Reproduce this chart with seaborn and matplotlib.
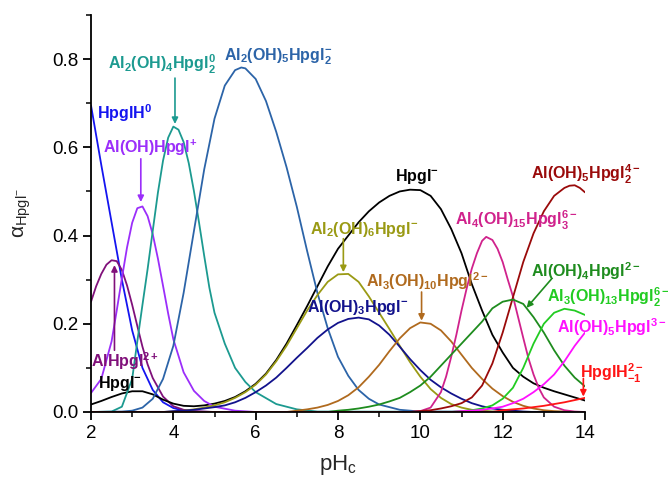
import numpy as np
import pandas as pd
import matplotlib
matplotlib.use("Agg")
import matplotlib.pyplot as plt
import seaborn as sns
from matplotlib.ticker import MultipleLocator, FormatStrFormatter

# ---------------- data ----------------
# common pH grid for the broad curves
pH = [2.0, 2.25, 2.5, 2.75, 3.0, 3.25, 3.5, 3.75, 4.0, 4.25, 4.5, 4.75,
      5.0, 5.25, 5.5, 5.75, 6.0, 6.25, 6.5, 6.75, 7.0, 7.25, 7.5, 7.75,
      8.0, 8.25, 8.5, 8.75, 9.0, 9.25, 9.5, 9.75, 10.0, 10.25, 10.5, 10.75,
      11.0, 11.25, 11.5, 11.75, 12.0, 12.25, 12.5, 12.75, 13.0, 13.25, 13.5, 13.75,
      14.0]

pH_HpglH0 = [2.0, 2.25, 2.5, 2.75, 3.0, 3.25, 3.5, 3.75, 4.0, 4.25, 4.5, 5.0, 14.0]
HpglH0 = [0.695, 0.56, 0.43, 0.30, 0.185, 0.10, 0.05, 0.022, 0.009, 0.003, 0.001, 0, 0]

pH_AlHpgl = [2.0, 2.125, 2.25, 2.375, 2.5, 2.625, 2.75, 2.875, 3.0, 3.125, 3.25, 3.375,
             3.5, 3.75, 4.0, 4.25, 4.5, 5.0, 14.0]
AlHpgl = [0.25, 0.285, 0.313, 0.334, 0.344, 0.342, 0.322, 0.287, 0.243, 0.195, 0.148, 0.108,
          0.077, 0.035, 0.013, 0.005, 0.002, 0, 0]

Hpgl = [0.017, 0.025, 0.034, 0.042, 0.047, 0.047, 0.04, 0.028, 0.019, 0.014, 0.013, 0.015,
        0.019, 0.025, 0.034, 0.047, 0.064, 0.087, 0.118, 0.155, 0.197, 0.24, 0.285, 0.33,
        0.37, 0.40, 0.43, 0.455, 0.475, 0.49, 0.50, 0.504, 0.503, 0.49, 0.46, 0.415,
        0.36, 0.29, 0.23, 0.175, 0.135, 0.10, 0.08, 0.065, 0.055, 0.047, 0.04, 0.033,
        0.026]

pH_AlOHHpgl = [2.0, 2.25, 2.5, 2.625, 2.75, 2.875, 3.0, 3.125, 3.25, 3.375, 3.5, 3.625,
               3.75, 3.875, 4.0, 4.25, 4.5, 4.75, 5.0, 5.5, 6.0, 14.0]
AlOHHpgl = [0.043, 0.075, 0.16, 0.23, 0.303, 0.373, 0.429, 0.462, 0.466, 0.444, 0.403, 0.348,
            0.286, 0.223, 0.165, 0.09, 0.048, 0.025, 0.012, 0.003, 0, 0]

pH_Al2OH4 = [2.0, 2.5, 2.75, 3.0, 3.125, 3.25, 3.375, 3.5, 3.625, 3.75, 3.875, 4.0,
             4.125, 4.25, 4.375, 4.5, 4.625, 4.75, 4.875, 5.0, 5.25, 5.5, 5.75, 6.0,
             6.5, 7.0, 7.5, 14.0]
Al2OH4 = [0, 0.001, 0.012, 0.075, 0.16, 0.243, 0.324, 0.411, 0.497, 0.57, 0.622, 0.647,
          0.640, 0.612, 0.564, 0.501, 0.429, 0.354, 0.282, 0.225, 0.155, 0.10, 0.068, 0.045,
          0.018, 0.006, 0.001, 0]

pH_Al2OH5 = [2.0, 2.75, 3.0, 3.25, 3.5, 3.75, 4.0, 4.25, 4.5, 4.75, 5.0, 5.25,
             5.5, 5.65, 5.75, 6.0, 6.25, 6.5, 6.75, 7.0, 7.25, 7.5, 7.75, 8.0,
             8.25, 8.5, 8.75, 9.0, 9.5, 10.0, 14.0]
Al2OH5 = [0, 0.001, 0.003, 0.01, 0.03, 0.075, 0.15, 0.27, 0.41, 0.55, 0.665, 0.74,
          0.775, 0.781, 0.779, 0.755, 0.705, 0.635, 0.555, 0.465, 0.365, 0.27, 0.19, 0.125,
          0.082, 0.05, 0.03, 0.017, 0.005, 0.001, 0]

Al2OH6 = [0, 0, 0, 0, 0, 0, 0, 0, 0.001, 0.003, 0.006, 0.01,
          0.015, 0.022, 0.032, 0.045, 0.062, 0.085, 0.115, 0.15, 0.19, 0.23, 0.265, 0.295,
          0.312, 0.313, 0.295, 0.262, 0.225, 0.188, 0.15, 0.113, 0.08, 0.052, 0.032, 0.018,
          0.01, 0.005, 0.003, 0.001, 0, 0, 0, 0, 0, 0, 0, 0,
          0]
AlOH3 = [0, 0, 0, 0, 0, 0, 0, 0, 0.002, 0.003, 0.005, 0.008,
         0.011, 0.015, 0.022, 0.032, 0.045, 0.06, 0.078, 0.10, 0.123, 0.145, 0.168, 0.187,
         0.202, 0.211, 0.214, 0.21, 0.196, 0.175, 0.148, 0.12, 0.095, 0.073, 0.056, 0.042,
         0.03, 0.02, 0.013, 0.008, 0.005, 0.003, 0.001, 0, 0, 0, 0, 0,
         0]
Al3OH10 = [0, 0, 0, 0, 0, 0, 0, 0, 0, 0, 0, 0,
           0, 0, 0, 0, 0, 0, 0, 0, 0.003, 0.006, 0.01, 0.016,
           0.025, 0.038, 0.056, 0.08, 0.107, 0.138, 0.167, 0.19, 0.203, 0.2, 0.185, 0.16,
           0.13, 0.10, 0.075, 0.053, 0.036, 0.023, 0.014, 0.008, 0.004, 0.002, 0.001, 0,
           0]

pH_Al4OH15 = [2.0, 9.75, 10.0, 10.25, 10.5, 10.625, 10.75, 10.875, 11.0, 11.125, 11.25, 11.375,
              11.5, 11.6, 11.75, 11.875, 12.0, 12.125, 12.25, 12.375, 12.5, 12.625, 12.75, 12.875,
              13.0, 13.25, 13.5, 13.75, 14.0]
Al4OH15 = [0, 0, 0.002, 0.01, 0.045, 0.08, 0.125, 0.175, 0.23, 0.28, 0.325, 0.36,
           0.388, 0.397, 0.39, 0.37, 0.34, 0.30, 0.262, 0.215, 0.168, 0.122, 0.085, 0.055,
           0.033, 0.012, 0.004, 0.001, 0]

pH_AlOH5_2 = [2.0, 9.75, 10.0, 10.25, 10.5, 10.75, 11.0, 11.25, 11.5, 11.75, 12.0, 12.25,
              12.5, 12.75, 13.0, 13.25, 13.5, 13.625, 13.75, 13.875, 14.0]
AlOH5_2 = [0, 0, 0.002, 0.004, 0.008, 0.013, 0.02, 0.033, 0.06, 0.11, 0.18, 0.26,
           0.34, 0.405, 0.455, 0.49, 0.508, 0.513, 0.514, 0.508, 0.498]

AlOH4 = [0, 0, 0, 0, 0, 0, 0, 0, 0, 0, 0, 0,
         0, 0, 0, 0, 0, 0, 0, 0, 0, 0, 0, 0,
         0.003, 0.005, 0.008, 0.012, 0.017, 0.024, 0.032, 0.045, 0.06, 0.08, 0.105, 0.13,
         0.155, 0.18, 0.205, 0.235, 0.25, 0.255, 0.245, 0.215, 0.18, 0.14, 0.105, 0.078,
         0.058]
Al3OH13 = [0, 0, 0, 0, 0, 0, 0, 0, 0, 0, 0, 0,
           0, 0, 0, 0, 0, 0, 0, 0, 0, 0, 0, 0,
           0, 0, 0, 0, 0, 0, 0, 0, 0, 0, 0, 0,
           0.002, 0.004, 0.008, 0.015, 0.03, 0.055, 0.10, 0.155, 0.20, 0.225, 0.234, 0.23,
           0.22]
AlOH5 = [0, 0, 0, 0, 0, 0, 0, 0, 0, 0, 0, 0,
         0, 0, 0, 0, 0, 0, 0, 0, 0, 0, 0, 0,
         0, 0, 0, 0, 0, 0, 0, 0, 0, 0, 0, 0,
         0.002, 0.003, 0.005, 0.008, 0.012, 0.02, 0.03, 0.045, 0.063, 0.085, 0.115, 0.15,
         0.18]
HpglHm1 = [0, 0, 0, 0, 0, 0, 0, 0, 0, 0, 0, 0,
           0, 0, 0, 0, 0, 0, 0, 0, 0, 0, 0, 0,
           0, 0, 0, 0, 0, 0, 0, 0, 0, 0, 0, 0,
           0, 0, 0, 0, 0.004, 0.006, 0.008, 0.011, 0.014, 0.018, 0.022, 0.027,
           0.032]

series = [
    (pH_HpglH0, HpglH0, "#1414F0"),
    (pH_AlHpgl, AlHpgl, "#80107A"),
    (pH, Hpgl, "#000000"),
    (pH_AlOHHpgl, AlOHHpgl, "#9B2EFA"),
    (pH_Al2OH4, Al2OH4, "#1C9A90"),
    (pH_Al2OH5, Al2OH5, "#2C64A8"),
    (pH, Al2OH6, "#9A9A14"),
    (pH, AlOH3, "#12128C"),
    (pH, Al3OH10, "#B06A1E"),
    (pH_Al4OH15, Al4OH15, "#D0228C"),
    (pH_AlOH5_2, AlOH5_2, "#9A0A0A"),
    (pH, AlOH4, "#1E8C1E"),
    (pH, Al3OH13, "#22CC22"),
    (pH, AlOH5, "#FF10FF"),
    (pH, HpglHm1, "#FF1414"),
]

# ---------------- style ----------------
sns.set_theme(style="ticks")
plt.rcParams["font.family"] = ["Liberation Sans", "DejaVu Sans"]
plt.rcParams["mathtext.fontset"] = "custom"
plt.rcParams["mathtext.rm"] = "Liberation Sans"
plt.rcParams["mathtext.it"] = "Liberation Sans:italic"
plt.rcParams["mathtext.bf"] = "Liberation Sans:bold"

fig = plt.figure(figsize=(6.68, 4.80), dpi=100)
ax = fig.add_axes([91 / 668, 68 / 480, 494 / 668, 397 / 480])

for xs, vals, col in series:
    sns.lineplot(x=xs, y=vals, color=col, lw=1.3, ax=ax, legend=False, sort=False)

ax.set_xlim(2, 14)
ax.set_ylim(0, 0.9)
ax.xaxis.set_major_locator(MultipleLocator(2))
ax.xaxis.set_minor_locator(MultipleLocator(1))
ax.yaxis.set_major_locator(MultipleLocator(0.2))
ax.yaxis.set_minor_locator(MultipleLocator(0.1))
ax.yaxis.set_major_formatter(FormatStrFormatter("%.1f"))
sns.despine(ax=ax)
for sp in ("left", "bottom"):
    ax.spines[sp].set_linewidth(1.3)
    ax.spines[sp].set_color("black")
ax.tick_params(which="major", direction="out", length=6, width=1.3, labelsize=13.5,
               colors="black", pad=3)
ax.tick_params(which="minor", direction="out", length=3.5, width=1.1, colors="black")

ax.set_xlabel("pH$_\\mathrm{c}$", fontsize=16, labelpad=8)
ax.set_ylabel("\u03b1$_{\\mathrm{Hpgl}^{-}}$", fontsize=15, labelpad=14)

# ---------------- labels and arrows ----------------
FS = 11.5
labels = [
    (r"$\mathbf{HpglH^{0}}$", 2.14, 0.665, "#1414F0"),
    (r"$\mathbf{Al(OH)Hpgl^{+}}$", 2.30, 0.588, "#9B2EFA"),
    (r"$\mathbf{Al_{2}(OH)_{4}Hpgl_{2}^{0}}$", 2.42, 0.777, "#1C9A90"),
    (r"$\mathbf{Al_{2}(OH)_{5}Hpgl_{2}^{-}}$", 5.23, 0.796, "#2C64A8"),
    (r"$\mathbf{AlHpgl^{2+}}$", 2.0, 0.102, "#80107A"),
    (r"$\mathbf{Hpgl^{-}}$", 2.18, 0.054, "#000000"),
    (r"$\mathbf{Hpgl^{-}}$", 9.38, 0.524, "#000000"),
    (r"$\mathbf{Al_{2}(OH)_{6}Hpgl^{-}}$", 7.32, 0.404, "#9A9A14"),
    (r"$\mathbf{Al(OH)_{3}Hpgl^{-}}$", 7.24, 0.226, "#12128C"),
    (r"$\mathbf{Al_{3}(OH)_{10}Hpgl^{2-}}$", 8.68, 0.283, "#B06A1E"),
    (r"$\mathbf{Al_{4}(OH)_{15}Hpgl_{3}^{6-}}$", 10.84, 0.422, "#D0228C"),
    (r"$\mathbf{Al(OH)_{5}Hpgl_{2}^{4-}}$", 12.70, 0.528, "#9A0A0A"),
    (r"$\mathbf{Al(OH)_{4}Hpgl^{2-}}$", 12.70, 0.305, "#1E8C1E"),
    (r"$\mathbf{Al_{3}(OH)_{13}Hpgl_{2}^{6-}}$", 13.07, 0.249, "#22CC22"),
    (r"$\mathbf{Al(OH)_{5}Hpgl^{3-}}$", 13.31, 0.180, "#FF10FF"),
    (r"$\mathbf{HpglH_{-1}^{2-}}$", 13.88, 0.076, "#FF1414"),
]
for txt, x, y, col in labels:
    ax.text(x, y, txt, color=col, fontsize=FS, ha="left", va="baseline", clip_on=False)

arrows = [
    ((3.21, 0.574), (3.21, 0.476), "#9B2EFA"),
    ((4.04, 0.757), (4.04, 0.653), "#1C9A90"),
    ((2.57, 0.140), (2.57, 0.333), "#80107A"),
    ((8.13, 0.393), (8.13, 0.317), "#9A9A14"),
    ((10.03, 0.272), (10.03, 0.207), "#B06A1E"),
    ((13.19, 0.302), (12.58, 0.236), "#1E8C1E"),
    ((13.96, 0.076), (13.96, 0.035), "#FF1414"),
]
for start, end, col in arrows:
    ax.annotate("", xy=end, xytext=start,
                arrowprops=dict(arrowstyle="-|>", color=col, lw=1.2,
                                mutation_scale=9, shrinkA=0, shrinkB=0),
                annotation_clip=False)

fig.savefig("out.png", dpi=100)
